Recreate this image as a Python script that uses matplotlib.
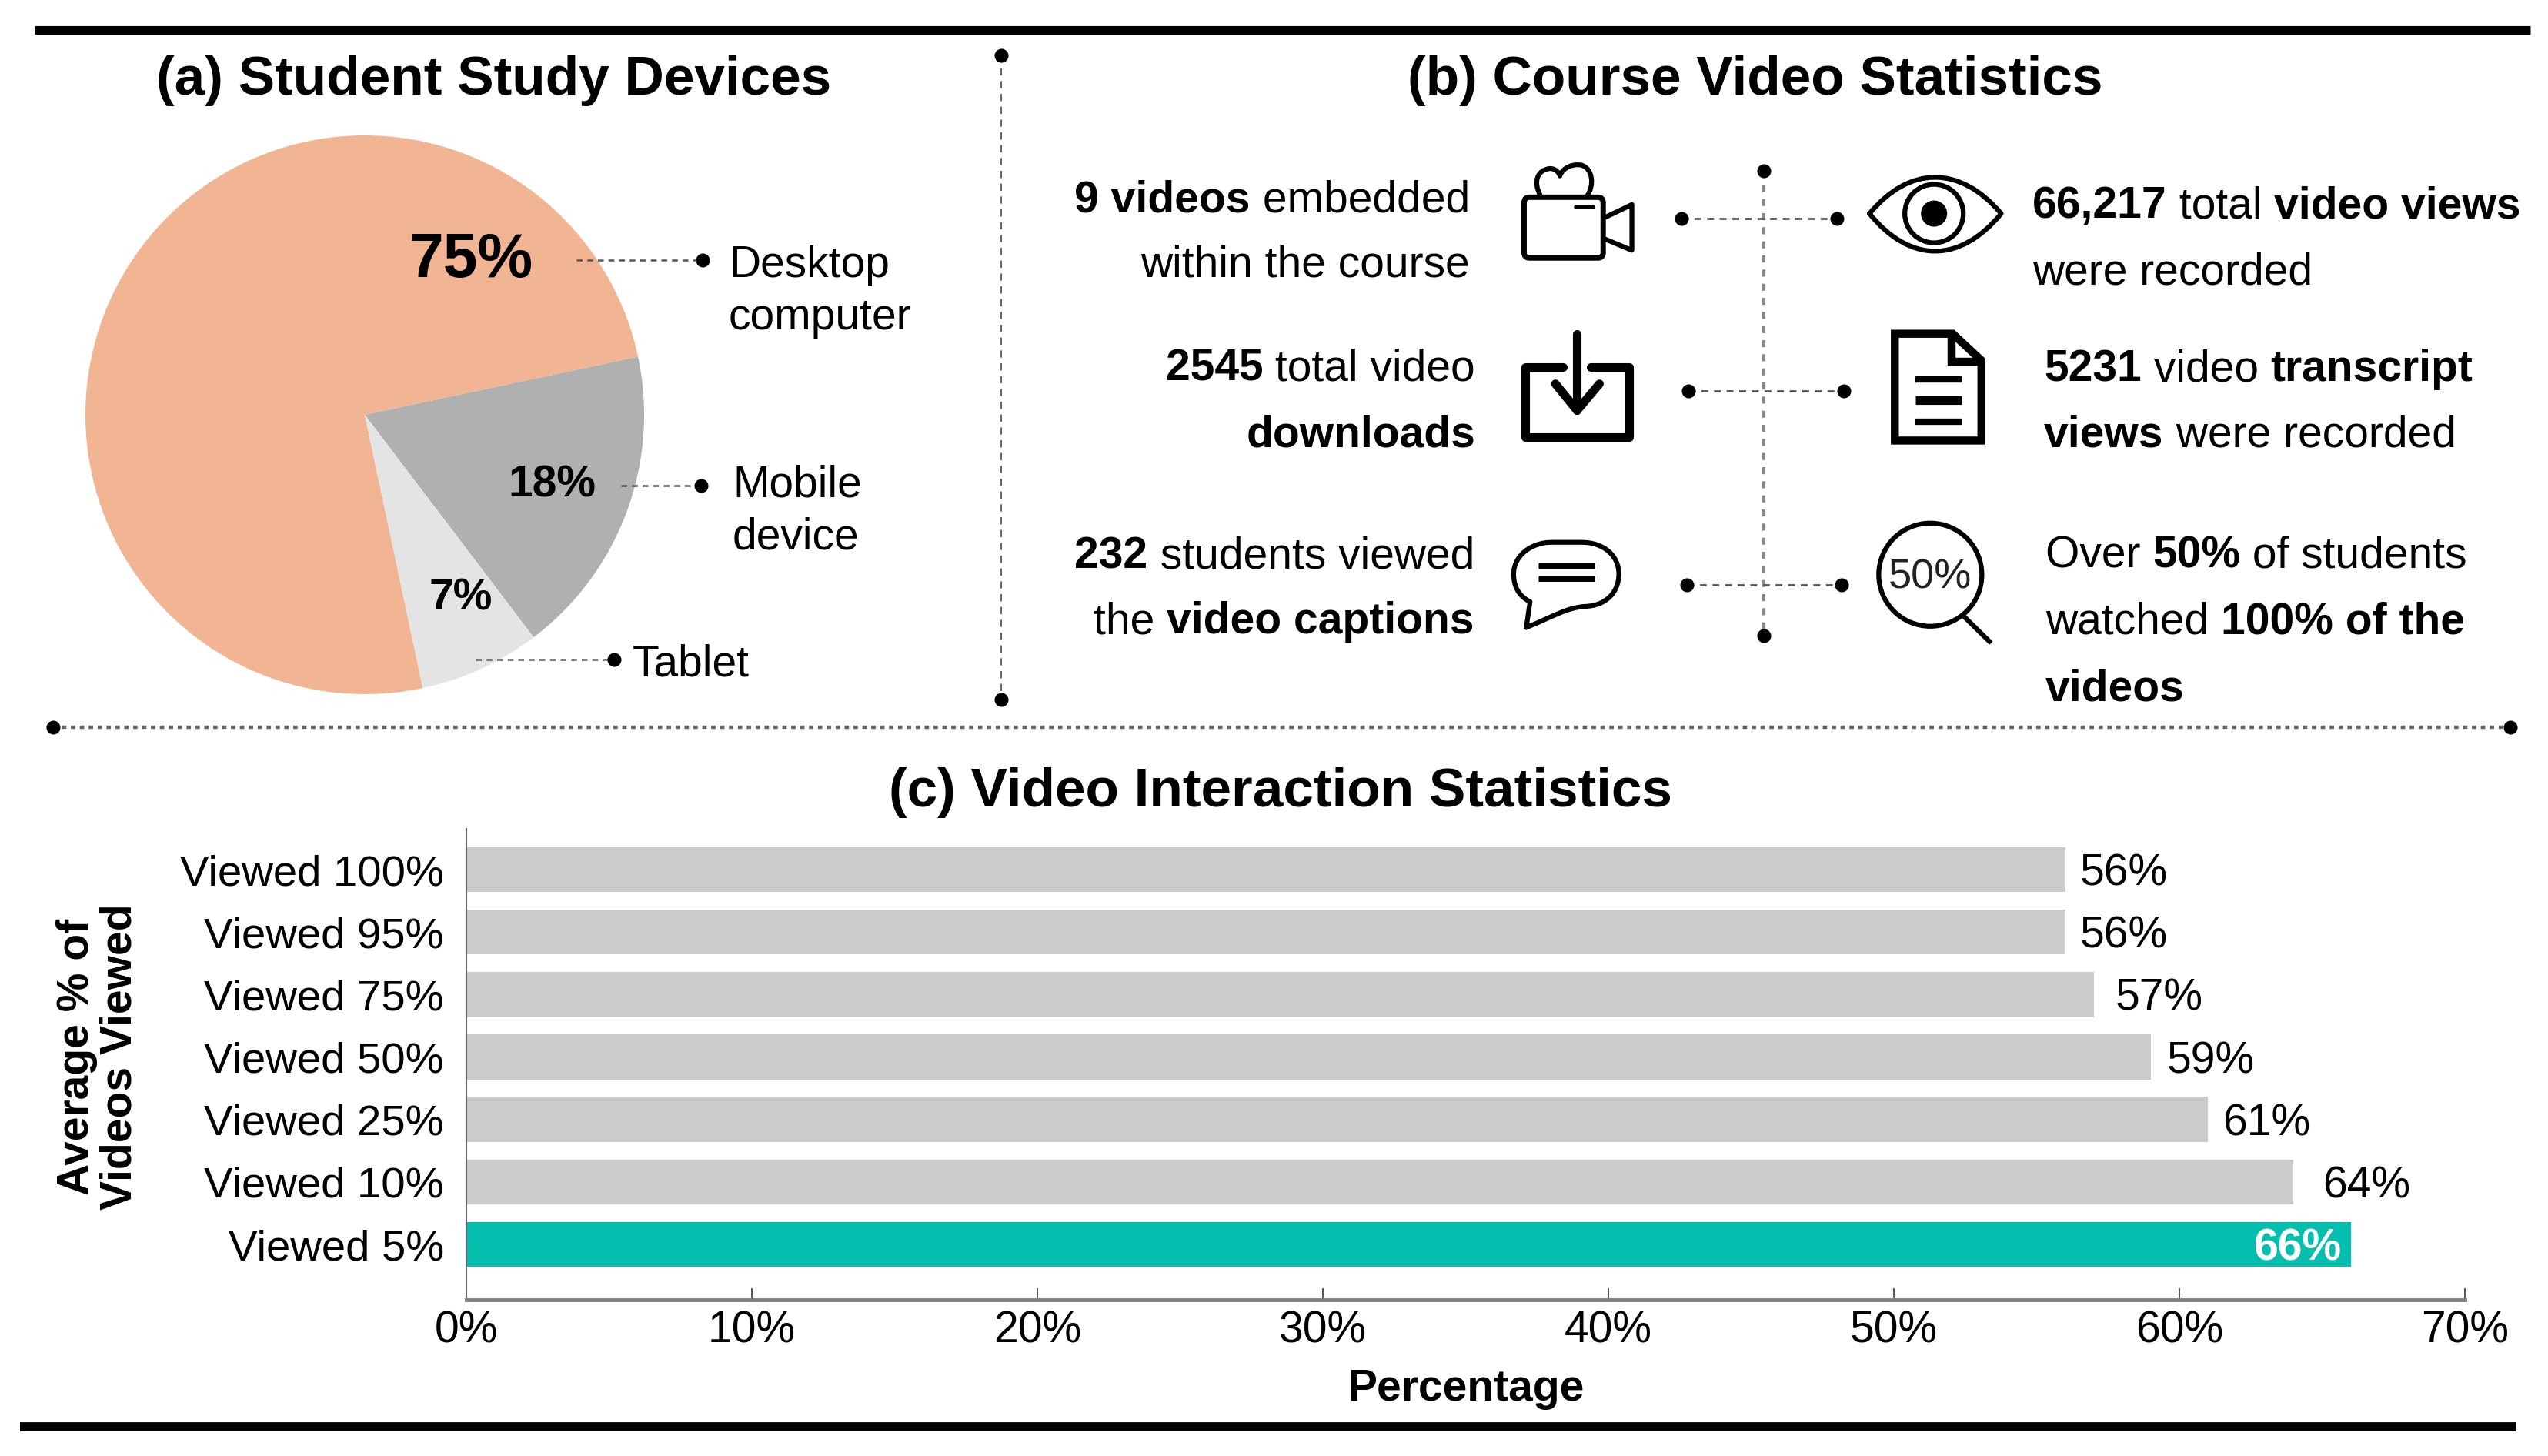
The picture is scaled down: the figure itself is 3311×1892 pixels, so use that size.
import matplotlib
matplotlib.use("Agg")
import matplotlib.pyplot as plt
from matplotlib.path import Path
from matplotlib.patches import PathPatch, Circle, FancyBboxPatch

plt.rcParams['font.family'] = ['Liberation Sans', 'DejaVu Sans']

W, H = 3311, 1892
DPI = 100

# ---- data ----
device_labels = ["Desktop\ncomputer", "Mobile\ndevice", "Tablet"]
device_values = [75, 18, 7]
device_pct = ["75%", "18%", "7%"]
device_colors = ["#F2B593", "#B0B0B0", "#E4E4E4"]

view_labels = ["Viewed 100%", "Viewed 95%", "Viewed 75%", "Viewed 50%",
               "Viewed 25%", "Viewed 10%", "Viewed 5%"]
view_values = [56, 56, 57, 59, 61, 64, 66]
view_ticks = [0, 10, 20, 30, 40, 50, 60, 70]
bar_grey = "#CBCBCB"
bar_teal = "#05BFAE"

stat_left = [
    [[("9 videos", True), (" embedded", False)], [("within the course", False)]],
    [[("2545", True), (" total video", False)], [("downloads", True)]],
    [[("232", True), (" students viewed", False)], [("the ", False), ("video captions", True)]],
]
stat_right = [
    [[("66,217", True), (" total ", False), ("video views", True)], [("were recorded", False)]],
    [[("5231", True), (" video ", False), ("transcript", True)], [("views", True), (" were recorded", False)]],
    [[("Over ", False), ("50%", True), (" of students", False)],
     [("watched ", False), ("100% of the", True)], [("videos", True)]],
]

fig = plt.figure(figsize=(W / DPI, H / DPI), dpi=DPI, facecolor="white")

def add_axes_px(x0, y0, x1, y1, **kw):
    return fig.add_axes([x0 / W, 1 - y1 / H, (x1 - x0) / W, (y1 - y0) / H], **kw)

FS = 41
# ---- pie ----
cx, cy, r = 474, 539, 363
axp = add_axes_px(cx - r, cy - r, cx + r, cy + r)
axp.pie(device_values, colors=device_colors, startangle=282, counterclock=False, radius=1)
axp.set_xlim(-1, 1); axp.set_ylim(-1, 1)

# ---- bars ----
axb = add_axes_px(606, 1077, 3203, 1689)
ypos = list(range(len(view_values)))
cols = [bar_grey] * (len(view_values) - 1) + [bar_teal]
axb.barh(ypos, view_values, height=0.72, color=cols)
axb.set_xlim(0, 70)
axb.set_ylim(6.887, -0.653)
axb.set_yticks(ypos, view_labels, fontsize=40.5)
axb.set_xticks(view_ticks, [f"{t}%" for t in view_ticks], fontsize=FS)
axb.tick_params(axis='y', length=0, pad=21)
axb.tick_params(axis='x', direction='in', length=11, width=1.4, color="#555555", pad=10)
for s in ("top", "right"):
    axb.spines[s].set_visible(False)
axb.spines["left"].set_color("#666666"); axb.spines["left"].set_linewidth(1.5)
axb.spines["bottom"].set_color("#808080"); axb.spines["bottom"].set_linewidth(3.5)
axb.set_xlabel("Percentage", fontsize=FS, fontweight="bold", labelpad=15)
label_gaps = [14, 14, 20, 15, 14, 27]
for y, v, g in zip(ypos[:-1], view_values[:-1], label_gaps):
    axb.annotate(f"{v}%", (v, y), xytext=(g, -4), textcoords="offset points",
                 va="center", ha="left", fontsize=FS)
axb.annotate(f"{view_values[-1]}%", (view_values[-1], ypos[-1]), xytext=(-8, -4),
             textcoords="offset points", va="center", ha="right", fontsize=FS,
             color="white", fontweight="bold")

# ---- overlay in pixel coordinates ----
ov = fig.add_axes([0, 0, 1, 1], facecolor="none")
ov.set_xlim(0, W); ov.set_ylim(H, 0); ov.axis("off")

ov.plot([45, 3288], [39, 39], color="black", lw=8, solid_capstyle="butt")
ov.plot([26, 3269], [1854, 1854], color="black", lw=8.5, solid_capstyle="butt")

def dotline(x0, y0, x1, y1, color="#555555", lw=1.6, dashes=(4, 3)):
    ov.plot([x0, x1], [y0, y1], color=color, lw=lw, dashes=dashes)
def dots(*pts, ms=13):
    ov.plot([p[0] for p in pts], [p[1] for p in pts], "o", color="black", ms=ms, mec="none")

# separators
dotline(1301, 72, 1301, 909, color="#666666", lw=1.5, dashes=(4.5, 3.5)); dots((1301, 72), (1301, 909))
dotline(69, 945, 3262, 945, color="#666666", lw=3.2, dashes=(1.3, 1.3)); dots((69, 945), (3262, 945))
dotline(2292, 222, 2292, 826, color="#888888", lw=3, dashes=(2.2, 2.2)); dots((2292, 222), (2292, 826))
for (a, b, y) in [(2185, 2387, 284), (2194, 2396, 508), (2192, 2393, 760)]:
    dotline(a, y, b, y, lw=2, dashes=(3.2, 2.7)); dots((a, y), (b, y))

# pie leaders
dotline(749, 338, 913, 338, lw=1.8, dashes=(3, 2.5)); dots((913, 338))
dotline(807, 631, 911, 631, lw=1.8, dashes=(3, 2.5)); dots((911, 631))
dotline(618, 857, 798, 857, lw=1.8, dashes=(3, 2.5)); dots((798, 857))

# titles
TFS = 51.2
ov.text(642, 105, "(a) Student Study Devices", fontsize=TFS, fontweight="bold", ha="center", va="center")
ov.text(2281, 105, "(b) Course Video Statistics", fontsize=TFS, fontweight="bold", ha="center", va="center")
ov.text(1664, 1030, "(c) Video Interaction Statistics", fontsize=TFS, fontweight="bold", ha="center", va="center")

# pie texts
ov.text(612, 339, device_pct[0], fontsize=58, fontweight="bold", ha="center", va="center")
ov.text(717, 630, device_pct[1], fontsize=FS, fontweight="bold", ha="center", va="center")
ov.text(599, 777, device_pct[2], fontsize=FS, fontweight="bold", ha="center", va="center")
lab_pos = [(947, 345), (952, 630), (822, 863)]
for (lx, ly), lab in zip(lab_pos, device_labels):
    for k, part in enumerate(lab.split("\n")):
        ov.text(lx, ly + k * 68, part, fontsize=FS, ha="left", va="center")

# y label
ov.text(128, 1373, "Average % of\nVideos Viewed", rotation=90, fontsize=FS, fontweight="bold",
        ha="center", va="center", multialignment="center", linespacing=1.03)

# mixed-weight runs
rend = fig.canvas.get_renderer()
def tw(s, bold):
    w = lambda q: ov.text(0, 0, q, fontsize=FS, fontweight="bold" if bold else "normal")
    a = w("|" + s + "|"); b = w("||")
    v = a.get_window_extent(rend).width - b.get_window_extent(rend).width
    a.remove(); b.remove()
    return v

def runs(x, y, segs, align):
    total = sum(tw(s, b) for s, b in segs)
    px = x - total if align == "right" else x
    for s, b in segs:
        ov.text(px, y, s, fontsize=FS, fontweight="bold" if b else "normal", ha="left", va="baseline")
        px += tw(s, b)

left_pos = [(1910, [275, 360]), (1917, [494, 580]), (1916, [738, 823])]
right_pos = [(2641, [283, 370]), (2656, [495, 580]), (2658, [737, 823, 910])]
for (x, ys), block in zip(left_pos, stat_left):
    for y, line in zip(ys, block):
        runs(x, y, line, "right")
for (x, ys), block in zip(right_pos, stat_right):
    for y, line in zip(ys, block):
        runs(x, y, line, "left")

# icons, outlined in pixel coordinates
def Z(zx, zy):
    return (1900 + zx / 2.063, 180 + zy / 2.306)
def stroke(pts, lw, closed=False, join="round", cap="round"):
    verts = [Z(*p) for p in pts]
    codes = [Path.MOVETO] + [Path.LINETO] * (len(verts) - 1)
    if closed:
        verts.append(verts[0]); codes.append(Path.CLOSEPOLY)
    ov.add_patch(PathPatch(Path(verts, codes), fc="none", ec="black", lw=lw, joinstyle=join, capstyle=cap))
def curve(cmds, lw, fc="none"):
    verts, codes = [], []
    for c in cmds:
        if c[0] == "M":
            verts.append(Z(*c[1])); codes.append(Path.MOVETO)
        elif c[0] == "L":
            verts.append(Z(*c[1])); codes.append(Path.LINETO)
        elif c[0] == "C":
            verts += [Z(*c[1]), Z(*c[2]), Z(*c[3])]; codes += [Path.CURVE4] * 3
    ov.add_patch(PathPatch(Path(verts, codes), fc=fc, ec="black", lw=lw, joinstyle="round", capstyle="round"))

# camera
x0, y0 = Z(166, 176); x1, y1 = Z(378, 358)
ov.add_patch(FancyBboxPatch((x0 + 5, y0 + 5), x1 - x0 - 10, y1 - y0 - 10, boxstyle="round,pad=5,rounding_size=7",
                            fc="none", ec="black", lw=5))
stroke([(305, 205), (350, 205)], 4)
stroke([(380, 238), (455, 198), (455, 335), (380, 300)], 4.5)
curve([("M", (210, 172)), ("C", (190, 130), (200, 95), (235, 90)), ("C", (250, 90), (258, 100), (262, 112)),
       ("C", (270, 85), (300, 75), (320, 80)), ("C", (350, 90), (355, 140), (335, 172))], 4.5)
# eye
curve([("M", (1092, 225)), ("C", (1200, 80), (1335, 80), (1445, 225)),
       ("C", (1335, 375), (1200, 375), (1092, 225))], 4.5)
ex, ey = Z(1265, 225)
ov.add_patch(Circle((ex, ey), 38, fc="none", ec="black", lw=4.5))
ov.add_patch(Circle((ex, ey), 17, fc="black", ec="none"))
# download
stroke([(270, 685), (170, 685), (170, 895), (448, 895), (448, 685), (345, 685)], 8)
stroke([(308, 585), (308, 815)], 8)
stroke([(250, 735), (308, 815), (368, 735)], 8)
# document
stroke([(1160, 585), (1315, 585), (1392, 665), (1392, 905), (1160, 905)], 7.5, closed=True, join="miter")
stroke([(1312, 590), (1312, 668), (1392, 668)], 7.5, join="miter")
for yy in (722, 785, 848):
    stroke([(1215, yy), (1338, yy)], 6 if yy != 785 else 8, cap="butt")
# bubble
curve([("M", (172, 1465)), ("L", (182, 1388)), ("C", (150, 1370), (138, 1340), (138, 1305)),
       ("C", (138, 1250), (185, 1210), (240, 1210)), ("L", (320, 1210)),
       ("C", (380, 1210), (420, 1250), (420, 1305)), ("C", (420, 1360), (385, 1400), (330, 1402)),
       ("C", (280, 1405), (240, 1435), (172, 1465))], 4.5)
stroke([(205, 1280), (355, 1280)], 5, cap="butt")
stroke([(205, 1320), (355, 1320)], 5, cap="butt")
# magnifier
mx, my = Z(1255, 1307)
ov.add_patch(Circle((mx, my), 67, fc="none", ec="black", lw=4.5))
stroke([(1345, 1432), (1418, 1512)], 4.5, cap="butt")
ov.text(mx, my + 4, "50%", fontsize=39, ha="center", va="center", color="#222222")

fig.savefig("out.png", dpi=DPI)
